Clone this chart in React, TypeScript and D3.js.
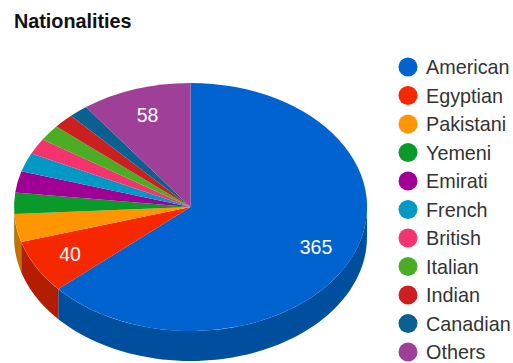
import React from "react";
import * as d3 from "d3";

const title = "Nationalities";
const nationalities = ["American", "Egyptian", "Pakistani", "Yemeni", "Emirati", "French", "British", "Italian", "Indian", "Canadian", "Others"];
const counts = [365, 40, 21, 16, 16, 14, 12, 12, 11, 10, 58];
const topColors = ["#0063cf", "#f52800", "#ff9500", "#0a9a2a", "#a00096", "#0099c6", "#f5336f", "#4aad24", "#cc1f1f", "#0a6090", "#a03f98"];
const sideColors = ["#004f9e", "#b31e00", "#c47200", "#087520", "#780070", "#007596", "#bb2755", "#38841b", "#9c1717", "#07496e", "#7a3074"];
const labelledSlices = ["American", "Egyptian", "Others"];

const WIDTH = 513;
const HEIGHT = 363;
const cx = 190.5;
const cy = 207;
const rx = 176.5;
const ry = 124;
const depth = 30;

const pie = d3.pie<number>().sort(null).startAngle(0).endAngle(2 * Math.PI);
const slices = pie(counts);
const unitArc = d3.arc<d3.PieArcDatum<number>>().innerRadius(0).outerRadius(1);

const legendY = d3.scalePoint<string>().domain(nationalities).range([67, 352]);

// Outer wall of a slice: only the part on the near half of the ellipse is visible.
const wall = d3
  .area<number>()
  .x((t) => cx + rx * Math.sin(t))
  .y0((t) => cy - ry * Math.cos(t))
  .y1((t) => cy - ry * Math.cos(t) + depth);

function wallPath(a0: number, a1: number): string | null {
  const start = Math.max(a0, Math.PI / 2);
  const end = Math.min(a1, 1.5 * Math.PI);
  if (end <= start) return null;
  return wall(d3.range(0, 61).map((i) => start + ((end - start) * i) / 60));
}

// Label position on the flattened pie, as a fraction of the radius along the slice's mid-angle.
function labelPoint(a0: number, a1: number, fraction: number): [number, number] {
  const mid = (a0 + a1) / 2;
  return [cx + rx * fraction * Math.sin(mid), cy - ry * fraction * Math.cos(mid)];
}

export default function App() {
  const font = "'Liberation Sans', Arial, sans-serif";
  return (
    <svg
      width={WIDTH}
      height={HEIGHT}
      viewBox={`0 0 ${WIDTH} ${HEIGHT}`}
      style={{ position: "absolute", left: 0, top: 0, display: "block", background: "#fff" }}
    >
      <text x={14} y={28} fontFamily={font} fontSize={19.8} fontWeight="bold" fill="#111">
        {title}
      </text>

      {slices.map((s, i) => {
        const d = wallPath(s.startAngle, s.endAngle);
        return d ? <path key={nationalities[i]} d={d} fill={sideColors[i]} /> : null;
      })}

      <g transform={`translate(${cx},${cy}) scale(${rx},${ry})`}>
        {slices.map((s, i) => (
          <path key={nationalities[i]} d={unitArc(s) ?? ""} fill={topColors[i]} />
        ))}
      </g>

      {slices.map((s, i) => {
        if (!labelledSlices.includes(nationalities[i])) return null;
        const [x, y] = labelPoint(s.startAngle, s.endAngle, 0.78);
        return (
          <text
            key={nationalities[i]}
            x={x}
            y={y + 7}
            textAnchor="middle"
            fontFamily={font}
            fontSize={19.5}
            fill="#fff"
          >
            {counts[i]}
          </text>
        );
      })}

      {nationalities.map((n, i) => (
        <g key={n}>
          <circle cx={408} cy={legendY(n)} r={9.5} fill={topColors[i]} />
          <text x={426} y={(legendY(n) ?? 0) + 7} fontFamily={font} fontSize={19.8} fill="#333">
            {n}
          </text>
        </g>
      ))}
    </svg>
  );
}
